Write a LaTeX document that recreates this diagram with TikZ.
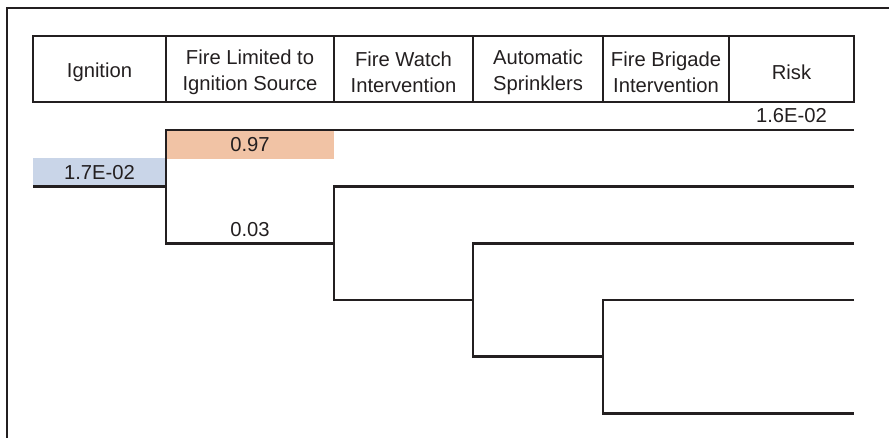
\documentclass[tikz,border=0pt]{standalone}
\usepackage{fontspec}
\setmainfont{Liberation Sans}
\usetikzlibrary{positioning, calc}
\definecolor{inkdark}{HTML}{231F20}
\definecolor{probpeach}{HTML}{F1C3A5}
\definecolor{freqblue}{HTML}{C9D5E8}

\begin{document}
\begin{tikzpicture}[font=\fontsize{11.5}{15}\selectfont,
    treeline/.style={draw=inkdark, line width=1.2pt},
    headcell/.style={draw=inkdark, line width=1.2pt, minimum height=1.32cm, inner sep=0pt, outer sep=0pt,
      label={[align=center, text=inkdark, yshift=-0.06cm]center:#1}},
    valcell/.style={minimum height=0.56cm, inner sep=0pt, outer sep=0pt, text=inkdark}]
  \useasboundingbox (0,0) rectangle (17.78,-8.76);
  % Outer frame
  \draw[inkdark, line width=1.2pt] (17.78,-0.16) -- (0.14,-0.16) -- (0.14,-8.76);

  % Header row
  \node[headcell={Ignition}, minimum width=2.66cm, anchor=north west] (ign) at (0.66,-0.72) {};
  \node[headcell={Fire Limited to\\Ignition Source}, minimum width=3.36cm, right=0pt of ign] (limited) {};
  \node[headcell={Fire Watch\\Intervention}, minimum width=2.78cm, right=0pt of limited] (watch) {};
  \node[headcell={Automatic\\Sprinklers}, minimum width=2.60cm, right=0pt of watch] (sprink) {};
  \node[headcell={Fire Brigade\\Intervention}, minimum width=2.52cm, right=0pt of sprink] (brigade) {};
  \node[headcell={Risk}, minimum width=2.50cm, right=0pt of brigade] (risk) {};

  % Branch points and line ends
  \coordinate (start) at (ign.west |- 0,-3.73);
  \coordinate (b1) at (limited.west |- 0,-3.73);
  \coordinate (b2) at (watch.west |- 0,-4.87);
  \coordinate (b3) at (sprink.west |- 0,-6.00);
  \coordinate (b4) at (brigade.west |- 0,-7.13);
  \coordinate (e1) at (risk.east |- 0,-2.60);
  \coordinate (e2) at (risk.east |- b1);
  \coordinate (e3) at (risk.east |- b2);
  \coordinate (e4) at (risk.east |- b3);
  \coordinate (e5) at (risk.east |- 0,-8.27);

  % Values
  \node[valcell, fill=freqblue, minimum width=2.66cm, anchor=south west] (pign) at (start) {1.7E-02};
  \node[valcell, fill=probpeach, minimum width=3.36cm, anchor=north west] (pyes) at ($(limited.west |- e1)+(0,-0.02)$) {0.97};
  \node[valcell, minimum width=3.36cm, anchor=south west] (pno) at (limited.west |- b2) {0.03};
  \node[valcell, anchor=south] (rone) at (risk.south |- e1) {1.6E-02};

  % Event tree
  \draw[treeline] (start) -- (b1);
  \draw[treeline] (e1) -| (b1) |- (b2);
  \draw[treeline] (e2) -| (b2) |- (b3);
  \draw[treeline] (e3) -| (b3) |- (b4);
  \draw[treeline] (e4) -| (b4) |- (e5);
\end{tikzpicture}
\end{document}
